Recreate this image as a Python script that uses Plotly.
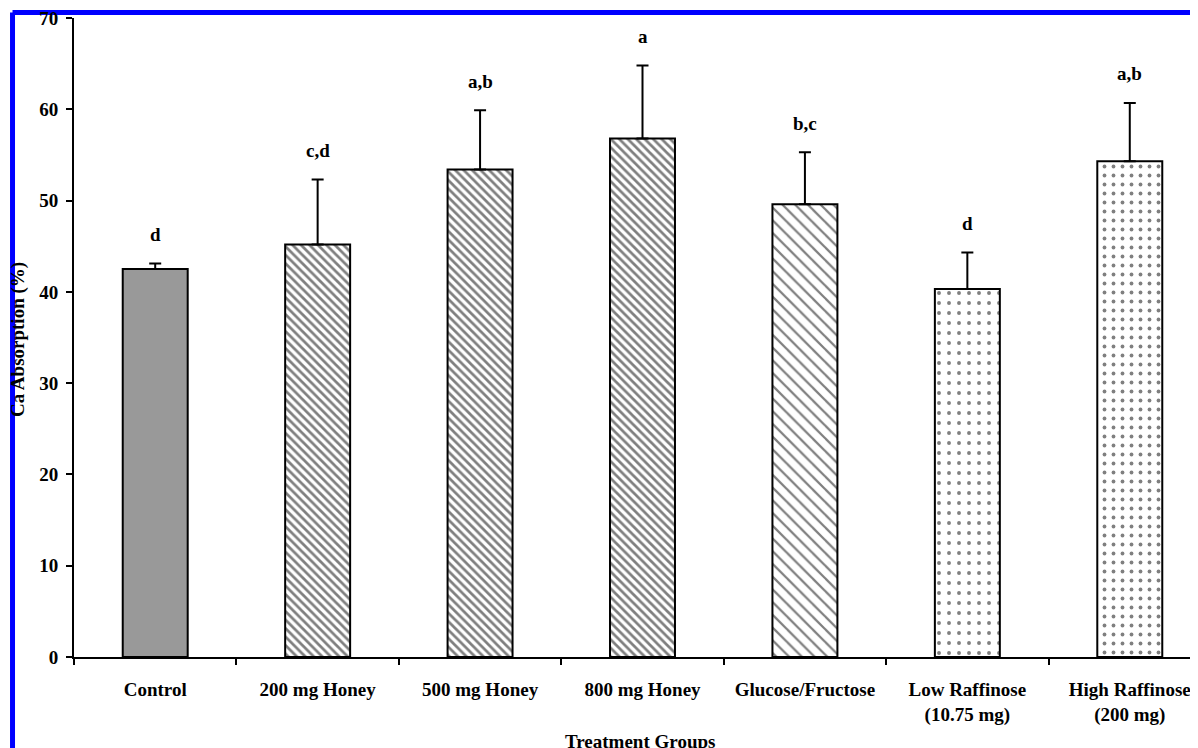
import plotly.graph_objects as go

categories = ["Control", "200 mg Honey", "500 mg Honey", "800 mg Honey",
              "Glucose/Fructose", "Low Raffinose<br>(10.75 mg)", "High Raffinose<br>(200 mg)"]
means = [42.5, 45.2, 53.4, 56.8, 49.6, 40.3, 54.3]
errors = [0.6, 7.1, 6.5, 8.0, 5.7, 4.0, 6.4]
letters = ["d", "c,d", "a,b", "a", "b,c", "d", "a,b"]
ytick_vals = [0, 10, 20, 30, 40, 50, 60, 70]

shapes_pat = ["", "\\", "\\", "\\", "\\", ".", "."]
sizes = [8, 6, 6, 6, 9, 10, 9]
solid = [0.3, 0.45, 0.45, 0.45, 0.25, 0.12, 0.14]
colors = ["#999999", "white", "white", "white", "white", "white", "white"]

FONT = "Liberation Serif"
FS = 19
bold = dict(family=FONT, size=FS, color="black", weight="bold")

fig = go.Figure()
for i, c in enumerate(categories):
    fig.add_trace(go.Bar(
        x=[c], y=[means[i]], width=0.4,
        marker=dict(color=colors[i], line=dict(color="black", width=2),
                    pattern=dict(shape=shapes_pat[i], fgcolor="black", bgcolor="white",
                                 size=sizes[i], solidity=solid[i], fillmode="overlay")),
        error_y=dict(type="data", symmetric=False, array=[errors[i]], arrayminus=[0],
                     color="black", thickness=2, width=6),
        showlegend=False,
    ))

for i, c in enumerate(categories):
    fig.add_annotation(x=c, y=means[i] + errors[i], text=letters[i],
                       showarrow=False, yshift=29, yanchor="middle", font=bold)

fig.add_annotation(xref="paper", yref="paper", x=-0.0498, y=0.496, text="Ca Absorption (%)",
                   textangle=-90, showarrow=False, xanchor="center", yanchor="middle", font=bold)
fig.add_annotation(xref="paper", yref="paper", x=0.5036, y=-0.133, text="Treatment Groups",
                   showarrow=False, xanchor="center", yanchor="middle", font=bold)

# blue frame
fig.add_shape(type="line", xref="paper", yref="paper", x0=-0.0547, x1=-0.0547, y0=-0.2, y1=1.0086,
              line=dict(color="#0000FF", width=5), layer="below")
fig.add_shape(type="line", xref="paper", yref="paper", x0=-0.0547, x1=1.1, y0=1.0086, y1=1.0086,
              line=dict(color="#0000FF", width=5), layer="below")

fig.update_layout(
    width=1190, height=740,
    margin=dict(l=66, r=0, t=10, b=91),
    paper_bgcolor="white", plot_bgcolor="rgba(0,0,0,0)",
    font=dict(family=FONT, size=FS, color="black"),
)
fig.update_xaxes(
    type="category", range=[-0.5, 6.42], showline=True, linecolor="black", linewidth=2,
    ticks="outside", tickson="boundaries", ticklen=6, tickwidth=2, tickcolor="black",
    tickfont=bold, ticklabelstandoff=14, showgrid=False, zeroline=False,
)
fig.update_yaxes(
    range=[0, 70], tickvals=ytick_vals, showline=True, linecolor="black",
    linewidth=2, ticks="outside", ticklen=6, tickwidth=2, tickcolor="black",
    tickfont=bold, showgrid=False, zeroline=False,
    ticklabelstandoff=4, ticklabeloverflow="allow",
)

fig.write_html("out.html")
